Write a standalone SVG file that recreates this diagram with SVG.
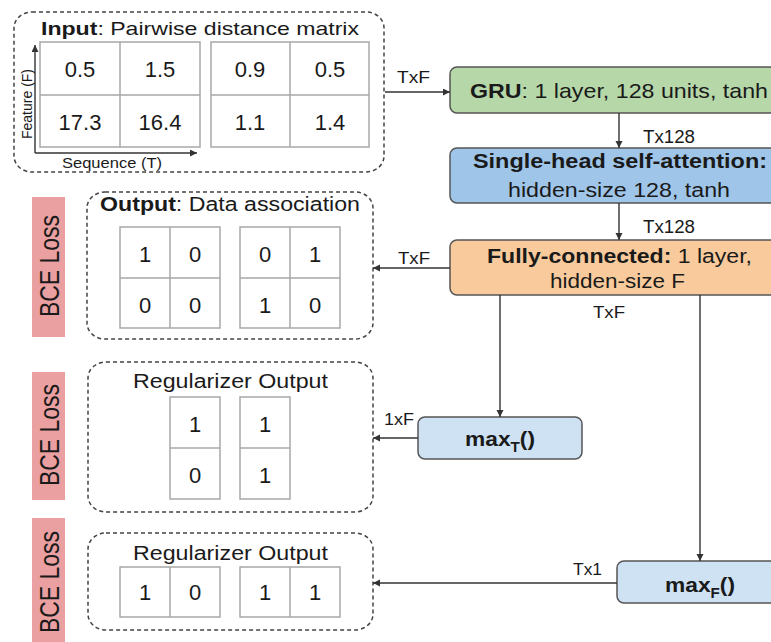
<svg xmlns="http://www.w3.org/2000/svg" width="771" height="642" viewBox="0 0 771 642">
<defs>
<marker id="ah" markerUnits="userSpaceOnUse" markerWidth="8" markerHeight="8" refX="7" refY="3.5" orient="auto">
<path d="M0,0 L7,3.5 L0,7 Z" fill="#333"/>
</marker>
<style>
text{font-family:"Liberation Sans",Arial,sans-serif;fill:#1a1a1a}
.dash{fill:none;stroke:#444;stroke-width:1.5;stroke-dasharray:4 3}
.grid{fill:#fff;stroke:#a8a8a8;stroke-width:1.5}
.val{font-size:22px;text-anchor:middle}
.lbl{font-size:16px}
.lbl18{font-size:18px}
.title{font-size:19px}
.rtitle{font-size:20px}
.b{font-weight:bold}
.node{stroke:#555;stroke-width:1.5}
.conn{fill:none;stroke:#333;stroke-width:1.4}
.bce{fill:#eaa0a0}
.mx{font-size:21px;font-weight:bold}
.sub{font-size:14px}
</style>
</defs>
<rect width="771" height="642" fill="#fff"/>

<g id="input">
<rect class="dash" x="14" y="12" width="370" height="160" rx="18" ry="16"/>
<text class="title" x="41" y="35" textLength="318" lengthAdjust="spacingAndGlyphs"><tspan class="b">Input</tspan>: Pairwise distance matrix</text>
<rect class="grid" x="40" y="42" width="160" height="105"/>
<path class="grid" d="M120,42 V147 M40,95 H200"/>
<rect class="grid" x="211" y="42" width="158" height="105"/>
<path class="grid" d="M290,42 V147 M211,95 H369"/>
<text class="val" x="80" y="77">0.5</text>
<text class="val" x="160" y="77">1.5</text>
<text class="val" x="250" y="77">0.9</text>
<text class="val" x="330" y="77">0.5</text>
<text class="val" x="80" y="130">17.3</text>
<text class="val" x="160" y="130">16.4</text>
<text class="val" x="250" y="130">1.1</text>
<text class="val" x="330" y="130">1.4</text>
<path class="conn" d="M35,153 V45" marker-end="url(#ah)"/>
<path class="conn" d="M35,153 H197" marker-end="url(#ah)"/>
<text font-size="14" text-anchor="middle" transform="translate(32,104) rotate(-90)">Feature (F)</text>
<text font-size="15" x="62" y="168" textLength="100" lengthAdjust="spacingAndGlyphs">Sequence (T)</text>
</g>

<g id="gru">
<rect class="node" x="450" y="67" width="350" height="46" rx="7" fill="#b6d7a8"/>
<text font-size="21" x="470" y="98" textLength="298" lengthAdjust="spacingAndGlyphs"><tspan class="b">GRU</tspan>: 1 layer, 128 units, tanh</text>
</g>

<g id="attention">
<rect class="node" x="450" y="148" width="350" height="55" rx="7" fill="#9fc5e8"/>
<text class="b" font-size="20" x="473" y="168" textLength="294" lengthAdjust="spacingAndGlyphs">Single-head self-attention:</text>
<text font-size="20" x="508" y="197" textLength="222" lengthAdjust="spacingAndGlyphs">hidden-size 128, tanh</text>
</g>

<g id="fc">
<rect class="node" x="450" y="240" width="350" height="55" rx="7" fill="#f9cb9c"/>
<text font-size="20" x="487" y="263" textLength="265" lengthAdjust="spacingAndGlyphs"><tspan class="b">Fully-connected:</tspan> 1 layer,</text>
<text font-size="20" x="550" y="288" textLength="135" lengthAdjust="spacingAndGlyphs">hidden-size F</text>
</g>

<g id="maxT">
<rect class="node" x="418" y="417" width="164" height="42" rx="7" fill="#cfe2f3"/>
<text class="mx" x="465" y="446" textLength="70" lengthAdjust="spacingAndGlyphs">max<tspan class="sub" dy="6">T</tspan><tspan dy="-6">()</tspan></text>
</g>

<g id="maxF">
<rect class="node" x="617" y="561" width="170" height="42" rx="7" fill="#cfe2f3"/>
<text class="mx" x="665" y="592" textLength="70" lengthAdjust="spacingAndGlyphs">max<tspan class="sub" dy="6">F</tspan><tspan dy="-6">()</tspan></text>
</g>

<g id="bce1">
<rect class="bce" x="32" y="197" width="33" height="140"/>
<text font-size="23" text-anchor="middle" transform="translate(59,266) scale(1.2,1) rotate(-90)">BCE Loss</text>
</g>
<g id="bce2">
<rect class="bce" x="32" y="372" width="33" height="128"/>
<text font-size="23" text-anchor="middle" transform="translate(59,435) scale(1.2,1) rotate(-90)">BCE Loss</text>
</g>
<g id="bce3">
<rect class="bce" x="32" y="518" width="33" height="130"/>
<text font-size="23" text-anchor="middle" transform="translate(59,582) scale(1.2,1) rotate(-90)">BCE Loss</text>
</g>

<g id="output">
<rect class="dash" x="87" y="192" width="286" height="147" rx="18" ry="16"/>
<text class="rtitle" x="100" y="211" textLength="260" lengthAdjust="spacingAndGlyphs"><tspan class="b">Output</tspan>: Data association</text>
<rect class="grid" x="120" y="227" width="100" height="101"/>
<path class="grid" d="M170,227 V328 M120,278 H220"/>
<rect class="grid" x="240" y="227" width="100" height="101"/>
<path class="grid" d="M290,227 V328 M240,278 H340"/>
<text class="val" x="145" y="262">1</text>
<text class="val" x="195" y="262">0</text>
<text class="val" x="265" y="262">0</text>
<text class="val" x="315" y="262">1</text>
<text class="val" x="145" y="313">0</text>
<text class="val" x="195" y="313">0</text>
<text class="val" x="265" y="313">1</text>
<text class="val" x="315" y="313">0</text>
</g>

<g id="reg1">
<rect class="dash" x="88" y="362" width="285" height="150" rx="18" ry="16"/>
<text class="rtitle" x="133" y="388" textLength="195" lengthAdjust="spacingAndGlyphs">Regularizer Output</text>
<rect class="grid" x="170" y="397" width="50" height="102"/>
<path class="grid" d="M170,448 H220"/>
<rect class="grid" x="240" y="397" width="50" height="102"/>
<path class="grid" d="M240,448 H290"/>
<text class="val" x="195" y="432">1</text>
<text class="val" x="265" y="432">1</text>
<text class="val" x="195" y="483">0</text>
<text class="val" x="265" y="483">1</text>
</g>

<g id="reg2">
<rect class="dash" x="88" y="533" width="285" height="97" rx="18" ry="16"/>
<text class="rtitle" x="133" y="560" textLength="195" lengthAdjust="spacingAndGlyphs">Regularizer Output</text>
<rect class="grid" x="120" y="567" width="100" height="50"/>
<path class="grid" d="M170,567 V617"/>
<rect class="grid" x="240" y="567" width="100" height="50"/>
<path class="grid" d="M290,567 V617"/>
<text class="val" x="145" y="600">1</text>
<text class="val" x="195" y="600">0</text>
<text class="val" x="265" y="600">1</text>
<text class="val" x="315" y="600">1</text>
</g>

<g id="connectors">
<path class="conn" d="M385,92 H450" marker-end="url(#ah)"/>
<path class="conn" d="M619,113 V148" marker-end="url(#ah)"/>
<path class="conn" d="M619,203 V240" marker-end="url(#ah)"/>
<path class="conn" d="M450,268 H373" marker-end="url(#ah)"/>
<path class="conn" d="M500,295 V417" marker-end="url(#ah)"/>
<path class="conn" d="M700,295 V561" marker-end="url(#ah)"/>
<path class="conn" d="M418,438 H373" marker-end="url(#ah)"/>
<path class="conn" d="M617,583 H373" marker-end="url(#ah)"/>
<text class="lbl" x="397" y="83" textLength="33" lengthAdjust="spacingAndGlyphs">TxF</text>
<text class="lbl18" x="643" y="143" textLength="52" lengthAdjust="spacingAndGlyphs">Tx128</text>
<text class="lbl18" x="643" y="233" textLength="52" lengthAdjust="spacingAndGlyphs">Tx128</text>
<text class="lbl" x="398" y="264" textLength="32" lengthAdjust="spacingAndGlyphs">TxF</text>
<text class="lbl" x="593" y="318" textLength="32" lengthAdjust="spacingAndGlyphs">TxF</text>
<text class="lbl" x="384" y="425" textLength="30" lengthAdjust="spacingAndGlyphs">1xF</text>
<text class="lbl" x="573" y="575" textLength="29" lengthAdjust="spacingAndGlyphs">Tx1</text>
</g>
</svg>
